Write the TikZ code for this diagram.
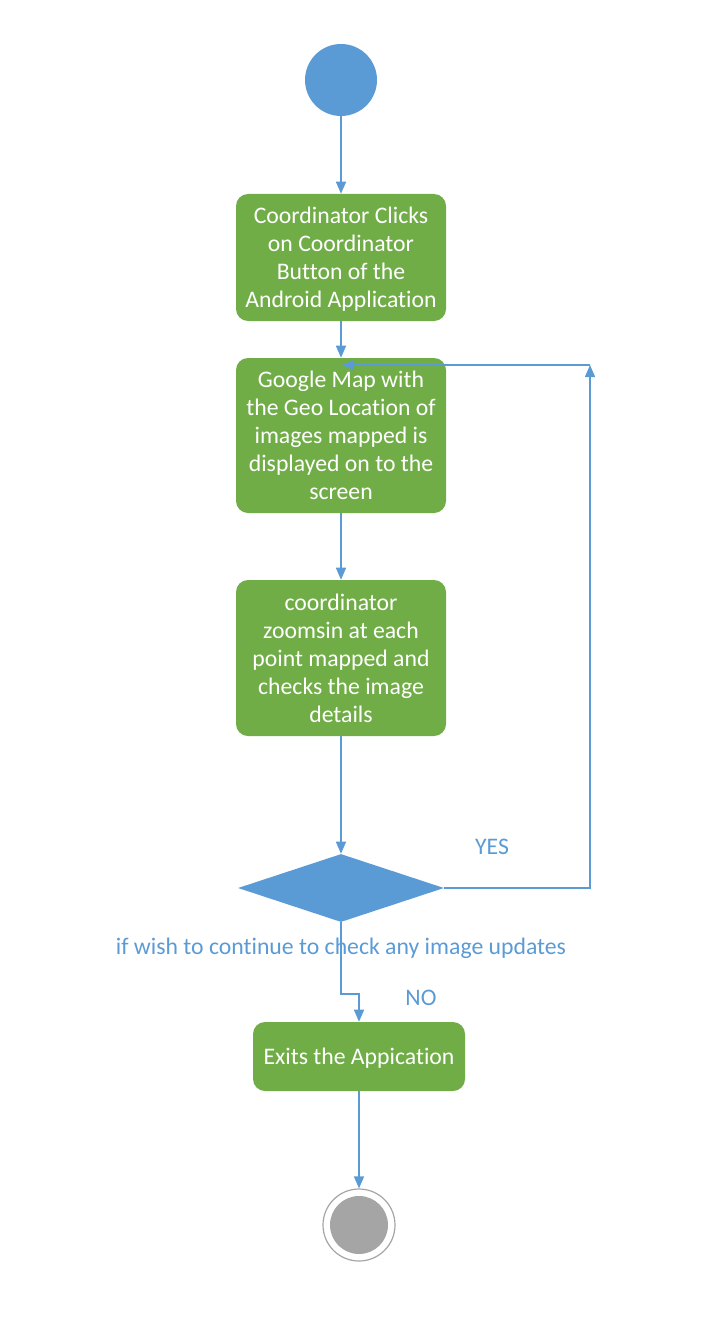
\documentclass[tikz,border=0pt]{standalone}
\usepackage{fontspec}
\setmainfont{Carlito}[Ligatures=NoCommon]
\usetikzlibrary{arrows.meta,shapes.geometric}
\definecolor{ugreen}{HTML}{70AD47}
\definecolor{ublue}{HTML}{5B9BD5}
\definecolor{ugray}{HTML}{A5A5A5}
\begin{document}
\begin{tikzpicture}[x=0.75pt,y=-0.75pt,
  act/.style={rectangle, rounded corners=9pt, fill=ugreen, text=white, align=center,
    minimum width=157.5pt, font=\fontsize{17.8}{21}\selectfont, inner sep=0pt, text depth=0pt},
  flow/.style={draw=ublue, line width=1.1pt, -{Triangle[length=9pt,width=7.5pt]}},
  lbl/.style={text=ublue, font=\fontsize{17.8}{21}\selectfont, inner sep=0pt}]
\useasboundingbox (0,0) rectangle (720,1330);
\node[circle, fill=ublue, minimum size=54pt, inner sep=0pt] (start) at (341,80) {};
\node[act, minimum height=95.25pt] (a1) at (341,257.5) {Coordinator Clicks\\on Coordinator\\Button of the\\Android Application};
\node[act, minimum height=116.25pt] (a2) at (341,435.5) {Google Map with\\the Geo Location of\\images mapped is\\displayed on to the\\screen};
\node[act, minimum height=117pt] (a3) at (341,658) {coordinator\\zoomsin at each\\point mapped and\\checks the image\\details};
\node[diamond, fill=ublue, minimum width=154.5pt, minimum height=51pt, inner sep=0pt] (dec) at (341,888) {};
\node[act, minimum width=159pt, minimum height=51.75pt] (a4) at (359,1056.5) {Exits the Appication};
\node[circle, draw=ugray, line width=0.9pt, fill=white, minimum size=54pt, inner sep=0pt] (endc) at (359,1225) {};
\node[circle, fill=ugray, minimum size=43.5pt, inner sep=0pt] (endi) at (359,1225) {};
\coordinate (jog) at (359,994);
\coordinate (c2) at (590,365);
\coordinate (t2) at (342,365);
\draw[flow] (start) -- (a1);
\draw[flow] (a1) -- (a2);
\draw[flow] (a2) -- (a3);
\draw[flow] (a3) -- (dec);
\draw[flow] (dec.south) |- (jog) -- (a4.north);
\draw[flow] (a4) -- (endc);
\draw[flow] (dec.east) -| (c2);
\draw[flow] (c2) -- (t2);
\node[lbl] (yes) at (492,847) {YES};
\node[lbl] (no) at (421,998) {NO};
\node[lbl] (cond) at (341,948.5) {if wish to continue to check any image updates};
\end{tikzpicture}
\end{document}
